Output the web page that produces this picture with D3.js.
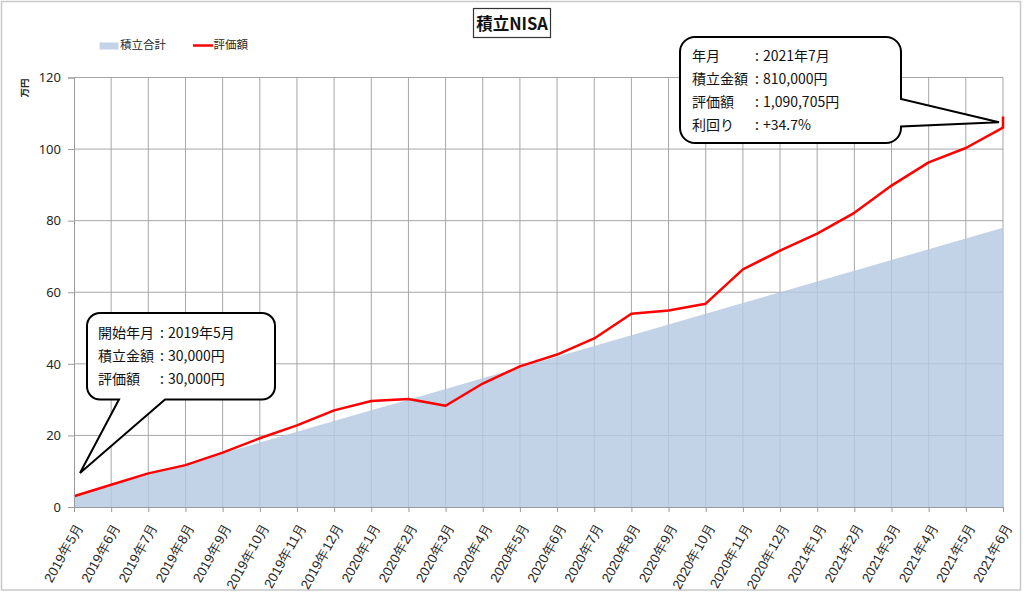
<!DOCTYPE html>
<html><head><meta charset="utf-8">
<script src="https://cdn.jsdelivr.net/npm/d3@7"></script>
<style>
html,body{margin:0;padding:0;background:#fff;}
svg{display:block;font-family:"Noto Sans CJK JP","Noto Sans",sans-serif;}
</style></head>
<body>
<svg id="chart" width="1024" height="593"></svg>
<script>
// ---- data ----
const categories = ["2019年5月","2019年6月","2019年7月","2019年8月","2019年9月","2019年10月","2019年11月","2019年12月",
  "2020年1月","2020年2月","2020年3月","2020年4月","2020年5月","2020年6月","2020年7月","2020年8月","2020年9月",
  "2020年10月","2020年11月","2020年12月","2021年1月","2021年2月","2021年3月","2021年4月","2021年5月","2021年6月"];
// 積立合計 (万円)
const accumulated = [3,6,9,12,15,18,21,24,27,30,33,36,39,42,45,48,51,54,57,60,63,66,69,72,75,78];
// 評価額 (万円)
const valuation = [3.0,6.2,9.4,11.7,15.2,19.2,22.8,27.0,29.6,30.2,28.3,34.5,39.3,42.6,47.1,54.0,54.9,56.8,66.4,71.6,76.4,82.2,89.8,96.3,100.3,106.0];
const finalValuation = 109.07; // 2021年7月 (1,090,705円)
const yTicks = [0,20,40,60,80,100,120];
const seriesNames = ["積立合計","評価額"];
const titleText = "積立NISA";
const unitText = "万円";
const startNote = [["開始年月","2019年5月"],["積立金額","30,000円"],["評価額","30,000円"]];
const endNote = [["年月","2021年7月"],["積立金額","810,000円"],["評価額","1,090,705円"],["利回り","+34.7%"]];

// ---- layout ----
const svg = d3.select("#chart");
const m = {left:74, right:1003, top:77.5, bottom:507};

svg.append("rect").attr("x",1.5).attr("y",1.5).attr("width",1019).attr("height",588.5)
  .attr("fill","#fff").attr("stroke","#c8c8c8").attr("stroke-width",1.5);

const x = d3.scalePoint().domain(categories).range([m.left, m.right]);
const y = d3.scaleLinear().domain([0,120]).range([m.bottom, m.top]);

// gridlines
const grid = svg.append("g");
grid.selectAll("line.h").data(yTicks.filter(d=>d>0)).join("line")
  .attr("x1",m.left).attr("x2",m.right).attr("y1",d=>y(d)).attr("y2",d=>y(d))
  .attr("stroke","#a6a6a6").attr("stroke-width",1);
grid.selectAll("line.v").data(categories.slice(1)).join("line")
  .attr("x1",d=>x(d)).attr("x2",d=>x(d)).attr("y1",m.top).attr("y2",m.bottom)
  .attr("stroke","#a6a6a6").attr("stroke-width",1);

// area
const area = d3.area().x((d,i)=>x(categories[i])).y0(y(0)).y1(d=>y(d));
svg.append("path").datum(accumulated).attr("d",area)
  .attr("fill","#b5c8e2").attr("fill-opacity",0.82);

// line
const lineData = valuation.map((v,i)=>({c:categories[i],v}));
lineData.push({c:categories[categories.length-1], v:finalValuation});
const line = d3.line().x(d=>x(d.c)).y(d=>y(d.v));
svg.append("path").datum(lineData).attr("d",line)
  .attr("fill","none").attr("stroke","#ff0000").attr("stroke-width",2.5).attr("stroke-linejoin","round");

// axes
const yAxis = d3.axisLeft(y).tickValues(yTicks).tickSize(6).tickPadding(7);
const gy = svg.append("g").attr("transform",`translate(${m.left},0)`).call(yAxis);
gy.select(".domain").attr("stroke","#9a9a9a");
gy.selectAll(".tick line").attr("stroke","#9a9a9a");
gy.selectAll("text").attr("font-size",13).attr("fill","#262626")
  .attr("font-family","'Noto Sans','Noto Sans CJK JP',sans-serif");

const xAxis = d3.axisBottom(x).tickSize(5).tickSizeOuter(0);
const gx = svg.append("g").attr("transform",`translate(0,${m.bottom})`).call(xAxis);
gx.select(".domain").attr("stroke","#9a9a9a");
gx.selectAll(".tick line").attr("stroke","#9a9a9a");
gx.selectAll("text").attr("font-size",13.5).attr("fill","#262626")
  .attr("text-anchor","end").attr("dy","0.35em")
  .attr("transform","translate(5,17) rotate(-61)").attr("x",0).attr("y",0);

// unit label
svg.append("text").attr("transform","translate(28,88) rotate(-90)")
  .attr("text-anchor","middle").attr("font-size",9.5).attr("font-weight","bold")
  .attr("fill","#262626").text(unitText);

// title
const tg = svg.append("g");
tg.append("rect").attr("x",473.5).attr("y",8.5).attr("width",77).attr("height",29)
  .attr("fill","#fff").attr("stroke","#333").attr("stroke-width",1.2);
tg.append("text").attr("x",512).attr("y",29.5).attr("text-anchor","middle")
  .attr("font-size",16.5).attr("font-weight","bold").attr("fill","#111").text(titleText);

// legend
const lg = svg.append("g");
lg.append("rect").attr("x",99.5).attr("y",42.5).attr("width",19).attr("height",7).attr("fill","#c4d4e8");
lg.append("text").attr("x",120).attr("y",48.5).attr("font-size",11.5).attr("fill","#262626").text(seriesNames[0]);
lg.append("line").attr("x1",193).attr("x2",213).attr("y1",45.5).attr("y2",45.5).attr("stroke","#ff0000").attr("stroke-width",2.5);
lg.append("text").attr("x",213.5).attr("y",48.5).attr("font-size",11.5).attr("fill","#262626").text(seriesNames[1]);

// callouts
function calloutBottom(x0,y0,x1,y1,r,pb1,pb2,tx,ty){
  return `M${x0+r},${y0}H${x1-r}A${r},${r} 0 0 1 ${x1},${y0+r}V${y1-r}A${r},${r} 0 0 1 ${x1-r},${y1}`+
    `H${pb2}L${tx},${ty}L${pb1},${y1}H${x0+r}A${r},${r} 0 0 1 ${x0},${y1-r}V${y0+r}A${r},${r} 0 0 1 ${x0+r},${y0}Z`;
}
function calloutRight(x0,y0,x1,y1,r,pa1,pa2,tx,ty){
  return `M${x0+r},${y0}H${x1-r}A${r},${r} 0 0 1 ${x1},${y0+r}V${pa1}L${tx},${ty}L${x1},${pa2}`+
    `V${y1-r}A${r},${r} 0 0 1 ${x1-r},${y1}H${x0+r}A${r},${r} 0 0 1 ${x0},${y1-r}V${y0+r}A${r},${r} 0 0 1 ${x0+r},${y0}Z`;
}
const c1 = svg.append("g");
const tip1x = x(categories[0]) + 6, tip1y = y(9.5);
c1.append("path").attr("d",calloutBottom(87,313,275,399.5,13,119,165,tip1x,tip1y))
  .attr("fill","#fff").attr("stroke","#000").attr("stroke-width",2);
startNote.forEach((r,i)=>{
  c1.append("text").attr("x",98).attr("y",338+i*23).attr("font-size",14).attr("fill","#111").text(r[0]);
  c1.append("text").attr("x",162).attr("y",338+i*23).attr("font-size",14).attr("text-anchor","middle").attr("fill","#111").text(":");
  c1.append("text").attr("x",168).attr("y",338+i*23).attr("font-size",14).attr("fill","#111").text(r[1]);
});
const c2 = svg.append("g");
const tip2x = x(categories[categories.length-1]) - 4, tip2y = y(107.5);
c2.append("path").attr("d",calloutRight(680,37,901,143,15,99,126.5,tip2x,tip2y))
  .attr("fill","#fff").attr("stroke","#000").attr("stroke-width",2);
endNote.forEach((r,i)=>{
  c2.append("text").attr("x",692).attr("y",61+i*23).attr("font-size",14).attr("fill","#111").text(r[0]);
  c2.append("text").attr("x",757).attr("y",61+i*23).attr("font-size",14).attr("text-anchor","middle").attr("fill","#111").text(":");
  c2.append("text").attr("x",763).attr("y",61+i*23).attr("font-size",14).attr("fill","#111").text(r[1]);
});
</script>
</body></html>
